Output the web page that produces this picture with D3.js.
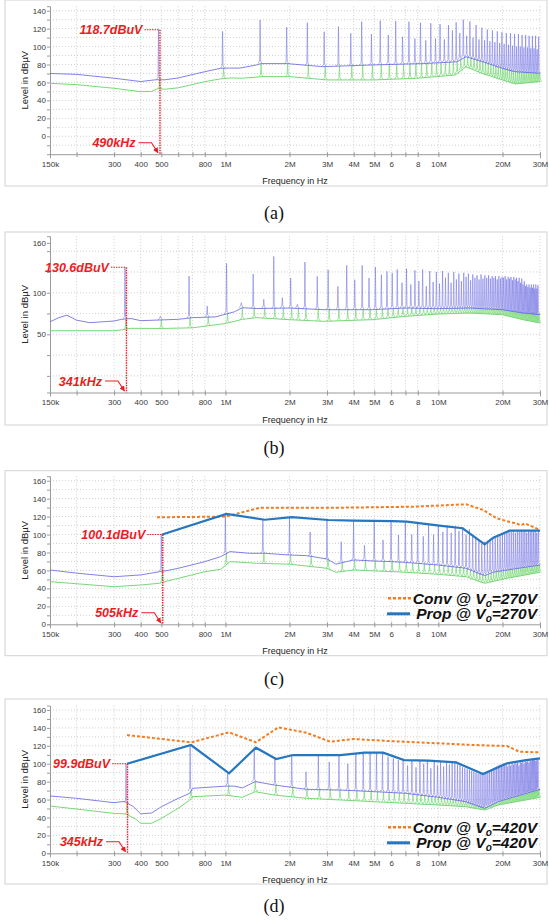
<!DOCTYPE html>
<html>
<head>
<meta charset="utf-8">
<script src="https://cdn.jsdelivr.net/npm/d3@7"></script>
<style>
  body { margin: 0; background: #fff; }
  svg text { font-family: "Liberation Sans", Arial, sans-serif; }
</style>
</head>
<body>
<svg id="chart" width="549" height="924"></svg>
<script>
// ---- shared axis data ----
var freqTicks = [150e3, 200e3, 300e3, 400e3, 500e3, 600e3, 700e3, 800e3, 1e6, 2e6, 3e6, 4e6, 5e6, 6e6, 7e6, 8e6, 10e6, 20e6, 30e6];
var freqLabels = ["150k", "", "300", "400", "500", "", "", "800", "1M", "2M", "3M", "4M", "5M", "6", "", "8", "10M", "20M", "30M"];
var captions = ["(a)", "(b)", "(c)", "(d)"];

// level ticks (labelled) and grid levels per panel
var levelLabelsA = [0, 20, 40, 60, 80, 100, 120, 140];
var levelGridA = [-10, 0, 10, 20, 30, 40, 50, 60, 70, 80, 90, 100, 110, 120, 130, 140];
var levelLabelsB = [50, 100, 160];
var levelGridB = [0, 25, 50, 75, 100, 125, 150];
var levelLabelsCD = [0, 20, 40, 60, 80, 100, 120, 140, 160];
var levelGridCD = [10, 20, 30, 40, 50, 60, 70, 80, 90, 100, 110, 120, 130, 140, 150, 160];

// ---- panel (a) ----
var fundA = 490e3;
var markA = { level: 118.7, peakText: "118.7dBuV", freqText: "490kHz" };
var blueFloorA = [[150e3, 70], [200e3, 69], [300e3, 64.7], [400e3, 61], [470e3, 63], [520e3, 63], [600e3, 65], [800e3, 72], [950e3, 75.8], [1.05e6, 76], [1.17e6, 76], [1.4e6, 79.5], [1.47e6, 81], [1.95e6, 81], [2.86e6, 77.6], [4.9e6, 79.5], [8.5e6, 81], [12.2e6, 83], [13.5e6, 88.7], [16.2e6, 83], [20e6, 75.8], [22.8e6, 72], [30e6, 70.2]];
var greenFloorA = [[150e3, 59], [200e3, 57.5], [300e3, 53.5], [400e3, 49.7], [450e3, 50], [480e3, 53], [520e3, 52.4], [600e3, 54], [800e3, 60.9], [950e3, 64], [1.05e6, 65], [1.2e6, 64.7], [1.5e6, 66.5], [2e6, 66.5], [3e6, 62.8], [5e6, 62.8], [8e6, 64.7], [12e6, 68.3], [13.5e6, 77.6], [16e6, 70.2], [20e6, 62.8], [23e6, 58.3], [30e6, 61]];
var harmonicsA = [118.7, 117, 129.7, 121.5, 126.7, 116.6, 122.2, 114.8, 127.8, 114,
  128.9, 112.9, 128.5, 111, 127.8, 109, 126.7, 107, 126, 109,
  125, 108, 124, 118, 127, 115, 130, 112, 128, 110,
  124, 108, 121, 107, 119, 106, 118, 105, 117, 104,
  116, 103, 115, 102, 115, 101, 114, 100, 114, 100,
  113, 99, 113, 99, 112, 98, 112, 98, 112, 97, 111];
var bumpsA = [];

// ---- panel (b) ----
var fundB = 341e3;
var markB = { level: 130.6, peakText: "130.6dBuV", freqText: "341kHz" };
var blueFloorB = [[150e3, 65], [165e3, 70], [180e3, 73], [200e3, 67], [230e3, 64], [300e3, 66], [325e3, 68], [360e3, 69], [400e3, 66.4], [600e3, 68], [700e3, 70], [900e3, 71], [1.1e6, 77], [1.2e6, 82], [1.4e6, 81], [2e6, 81.6], [2.9e6, 79.6], [4.9e6, 79.6], [7e6, 81.6], [10e6, 80.8], [14e6, 81.6], [20e6, 79.6], [25e6, 75.6], [30e6, 73.6]];
var greenFloorB = [[150e3, 54.3], [300e3, 54.3], [330e3, 55.5], [360e3, 57.2], [500e3, 57], [700e3, 57.8], [1e6, 63], [1.2e6, 68], [1.4e6, 70], [2e6, 67.6], [2.9e6, 65.6], [4.9e6, 67.6], [7e6, 71.6], [10e6, 74.4], [14e6, 75.6], [20e6, 73.6], [25e6, 67.6], [30e6, 63.6]];
var harmonicsB = [130.6, 120, 135.3, 122.5, 143.7, 117.7, 136.9, 119.7, 127.6, 107.7,
  132.9, 115.6, 132.9, 117.7, 130.9, 121.7, 125.7, 123.7, 128, 112,
  129, 110, 127, 114, 128, 108, 126, 113, 125, 111,
  126, 118, 124, 112, 125, 116, 123, 114, 124, 119,
  123, 115, 122, 118, 121, 116, 122, 117, 121, 118,
  121, 117, 120, 118, 120, 116, 120, 117, 119, 118,
  120, 116, 119, 117, 119, 115, 119, 116, 118, 114,
  118, 112, 117, 110, 114, 108, 110, 107, 110, 106,
  110, 106, 110, 105, 110, 105, 109];
var bumpsB = [[500e3, 72], [830e3, 84], [1.2e6, 88], [1.53e6, 92], [1.87e6, 94], [2.2e6, 86]];

// ---- panel (c) ----
var fundC = 505e3;
var markC = { level: 100.1, peakText: "100.1dBuV", freqText: "505kHz" };
var blueFloorC = [[150e3, 60.5], [200e3, 57], [300e3, 53], [400e3, 55], [490e3, 58.6], [520e3, 59.4], [600e3, 62.4], [800e3, 69.8], [950e3, 75.4], [1.05e6, 81], [1.3e6, 79.1], [1.53e6, 79.1], [2e6, 77.2], [2.4e6, 76.5], [3e6, 72.8], [3.3e6, 67], [4e6, 71.7], [4.9e6, 70.6], [6e6, 69.8], [7e6, 69], [10e6, 66], [13.5e6, 62.4], [16.5e6, 54.2], [18e6, 57.9], [21e6, 60.5], [30e6, 66]];
var greenFloorC = [[150e3, 47.5], [300e3, 41.9], [400e3, 43.8], [490e3, 45.7], [520e3, 47.5], [800e3, 58.6], [950e3, 61.3], [1.05e6, 69.8], [1.4e6, 68], [2e6, 67], [3e6, 62.4], [3.3e6, 58], [4e6, 60.5], [7e6, 58], [10e6, 55.7], [13.5e6, 53], [16.5e6, 45.7], [21e6, 51.3], [30e6, 58]];
var harmonicsC = [100.1, 122.5, 116.5, 119, 103, 116, 92, 115.4, 88, 115.4,
  94, 114.4, 99.5, 114, 100, 113, 98, 112, 100, 110.5,
  103, 110, 102, 109, 104, 108, 100, 106, 98, 96,
  94, 90, 92, 93, 95, 96, 97, 98, 99, 101,
  102, 103, 104, 103, 104, 102, 104, 103, 104, 103,
  104, 102, 104, 103, 104, 103, 104, 102, 104];
var bumpsC = [];
var propC = [[505e3, 100.1], [1.01e6, 122.9], [1.53e6, 116.5], [2.05e6, 119.3], [3.04e6, 116.2], [4.0e6, 115.4], [6.1e6, 115], [7.1e6, 114.4], [10.1e6, 109.9], [13e6, 107], [16.5e6, 89.1], [18.1e6, 96.5], [21.6e6, 104.3], [30e6, 104.3]];
var convC = [[477e3, 119.2], [1.0e6, 120], [1.46e6, 129.9], [3.45e6, 129.9], [7.5e6, 131], [13.5e6, 133.7], [16.2e6, 127.4], [18.8e6, 118.1], [22e6, 113.6], [24.5e6, 110.6], [25.5e6, 112.5], [30e6, 105]];
var voltC = "270V";

// ---- panel (d) ----
var fundD = 345e3;
var markD = { level: 99.9, peakText: "99.9dBuV", freqText: "345kHz" };
var blueFloorD = [[150e3, 64], [200e3, 61.4], [300e3, 56.5], [335e3, 58], [370e3, 52], [400e3, 44], [450e3, 45], [500e3, 52], [600e3, 61.4], [680e3, 67], [700e3, 72.5], [1e6, 75], [1.1e6, 75], [1.2e6, 73], [1.38e6, 80], [1.7e6, 76.2], [2.4e6, 71.4], [3.5e6, 70.6], [5e6, 68.8], [7e6, 67], [10e6, 62.5], [13.5e6, 57.6], [16.5e6, 50.2], [19e6, 57.6], [30e6, 71.4]];
var greenFloorD = [[150e3, 52.8], [300e3, 44.6], [340e3, 44], [380e3, 38], [400e3, 33.5], [450e3, 33.5], [500e3, 39], [600e3, 50.2], [680e3, 59.5], [700e3, 63.2], [1e6, 65], [1.2e6, 62.5], [1.38e6, 68.8], [1.7e6, 65], [2.4e6, 61.4], [3.5e6, 59.5], [5e6, 57.6], [7e6, 55.8], [10e6, 53.9], [13.5e6, 52], [16.5e6, 48.3], [19e6, 53.9], [30e6, 62.5]];
var harmonicsD = [99.9, 120.5, 89, 118, 105, 110, 91, 110, 102, 110,
  100, 111, 112, 112, 112, 112, 108, 106, 104, 104,
  98, 104, 96, 103, 100, 103, 95, 103, 98, 102,
  97, 102, 99, 101, 101, 99, 98, 96, 95, 94,
  93, 92, 91, 90, 89, 89, 88, 90, 91, 92,
  93, 94, 95, 96, 97, 98, 99, 99, 100, 100,
  100, 97, 101, 98, 102, 99, 102, 100, 103, 98,
  103, 101, 104, 100, 104, 102, 105, 101, 105, 103,
  105, 104, 106, 103, 106, 105];
var bumpsD = [];
var propD = [[345e3, 99.9], [689e3, 120.9], [1.04e6, 89.3], [1.39e6, 117.9], [1.73e6, 105.2], [2.08e6, 109.7], [3.46e6, 109.7], [4.5e6, 112.3], [5.5e6, 112.3], [6.9e6, 104.1], [9.0e6, 103.4], [12.1e6, 101.5], [16.2e6, 88.5], [21e6, 100.4], [25.8e6, 104.1], [30e6, 106]];
var convD = [[345e3, 132], [690e3, 123.9], [1.04e6, 135], [1.39e6, 123.9], [1.77e6, 140.6], [2.4e6, 134.6], [3.1e6, 124.6], [4.0e6, 127.6], [5.9e6, 125.3], [10e6, 122.8], [14.5e6, 120.9], [21e6, 119.8], [24e6, 113.4], [30e6, 112.7]];
var voltD = "420V";

// colours
var blueTrace = "#6b6be2", greenTrace = "#78d878", red = "#ec1c24",
  propColor = "#2677c0", convColor = "#f47b20";

var svg = d3.select("#chart");
var x = d3.scaleLog().domain([150e3, 30e6]).range([50, 540]);

var panels = [
  { frame: [5, 0, 542, 186], dom: [-20, 145], rng: [154.2, 6.2], labels: levelLabelsA, grid: levelGridA, cap: 213,
    fund: fundA, mark: markA, blue: blueFloorA, green: greenFloorA, harm: harmonicsA, bumps: bumpsA },
  { frame: [5, 232, 542, 193], dom: [-20, 168], rng: [392.5, 236.2], labels: levelLabelsB, grid: levelGridB, cap: 448,
    fund: fundB, mark: markB, blue: blueFloorB, green: greenFloorB, harm: harmonicsB, bumps: bumpsB },
  { frame: [5, 470.7, 542, 185], dom: [0, 165], rng: [624.3, 476.2], labels: levelLabelsCD, grid: levelGridCD, cap: 679,
    fund: fundC, mark: markC, blue: blueFloorC, green: greenFloorC, harm: harmonicsC, bumps: bumpsC,
    prop: propC, conv: convC, volt: voltC },
  { frame: [5, 699, 542, 185], dom: [0, 165], rng: [853.3, 705.5], labels: levelLabelsCD, grid: levelGridCD, cap: 906,
    fund: fundD, mark: markD, blue: blueFloorD, green: greenFloorD, harm: harmonicsD, bumps: bumpsD,
    prop: propD, conv: convD, volt: voltD }
];

svg.append("defs").append("marker")
  .attr("id", "arrow")
  .attr("viewBox", "0 0 10 10")
  .attr("refX", 9).attr("refY", 5)
  .attr("markerWidth", 5).attr("markerHeight", 5)
  .attr("orient", "auto")
  .append("path")
  .attr("d", "M0,0L10,5L0,10z")
  .attr("fill", red);

panels.forEach(function (p, i) { drawPanel(p, i); });

function floorScale(floor) {
  return d3.scaleLog()
    .domain(floor.map(function (d) { return d[0]; }))
    .range(floor.map(function (d) { return d[1]; }))
    .clamp(true);
}

// one narrow spike with a small skirt, from the floor up to the level
function spikePath(xs, yb, yp) {
  var sk = Math.min(2.5, Math.max(0, yb - yp));
  return "M" + (xs - 2) + "," + yb + "L" + (xs - 0.5) + "," + (yb - sk) +
    "L" + xs + "," + yp + "L" + (xs + 0.5) + "," + (yb - sk) + "L" + (xs + 2) + "," + yb;
}

function drawPanel(p, idx) {
  var y = d3.scaleLinear().domain(p.dom).range(p.rng);
  var bottom = p.rng[0], top = p.rng[1];
  var g = svg.append("g");

  // frame
  g.append("rect")
    .attr("x", p.frame[0]).attr("y", p.frame[1])
    .attr("width", p.frame[2]).attr("height", p.frame[3])
    .attr("fill", "none").attr("stroke", "#d2d2d2").attr("stroke-width", 1);

  // grid
  g.append("g").selectAll("line.h").data(p.grid).enter().append("line")
    .attr("x1", 50).attr("x2", 540)
    .attr("y1", function (d) { return y(d); }).attr("y2", function (d) { return y(d); })
    .attr("stroke", "#c4c4c4").attr("stroke-width", 0.8).attr("stroke-dasharray", "1,2");
  g.append("g").selectAll("line.v").data(freqTicks.slice(1)).enter().append("line")
    .attr("x1", function (d) { return x(d); }).attr("x2", function (d) { return x(d); })
    .attr("y1", top).attr("y2", bottom)
    .attr("stroke", "#c4c4c4").attr("stroke-width", 0.8).attr("stroke-dasharray", "1,2");

  // axes
  var ya = g.append("g").attr("transform", "translate(50,0)")
    .call(d3.axisLeft(y).tickValues(p.grid.concat(p.labels).filter(function (v, k, a) { return a.indexOf(v) === k; }))
      .tickSize(3).tickPadding(1)
      .tickFormat(function (d) { return p.labels.indexOf(d) >= 0 ? d : ""; }));
  ya.select(".domain").attr("stroke", "#9a9a9a");
  ya.selectAll(".tick line").attr("stroke", "#9a9a9a");
  ya.selectAll("text").attr("fill", "#3a3a3a").style("font-size", "8px");

  var xa = g.append("g").attr("transform", "translate(0," + bottom + ")")
    .call(d3.axisBottom(x).tickValues(freqTicks).tickSize(4).tickPadding(3)
      .tickFormat(function (d, k) { return freqLabels[k]; }));
  xa.select(".domain").attr("stroke", "#9a9a9a");
  xa.selectAll(".tick line").attr("stroke", "#9a9a9a").attr("y1", -2).attr("y2", 3);
  xa.selectAll("text").attr("fill", "#3a3a3a").style("font-size", "8px");

  // axis titles
  g.append("text")
    .attr("transform", "translate(24," + ((top + bottom) / 2) + ") rotate(-90)")
    .attr("text-anchor", "middle").attr("dominant-baseline", "central")
    .style("font-size", "9.5px").attr("fill", "#222")
    .text("Level in dBµV");
  g.append("text")
    .attr("x", 295).attr("y", bottom + 30)
    .attr("text-anchor", "middle")
    .style("font-size", "9px").attr("fill", "#222")
    .text("Frequency in Hz");

  // traces
  var blueAt = floorScale(p.blue), greenAt = floorScale(p.green);
  var line = d3.line().x(function (d) { return x(d[0]); }).y(function (d) { return y(d[1]); });
  var harm = p.harm.map(function (v, k) { return [p.fund * (k + 1), v]; })
    .filter(function (d) { return d[0] <= 30e6; });
  var spikes = harm.concat(p.bumps);

  var tg = g.append("g");
  tg.append("path").datum(p.green).attr("d", line)
    .attr("fill", "none").attr("stroke", greenTrace).attr("stroke-width", 1);
  tg.selectAll("path.gs").data(spikes).enter().append("path")
    .attr("d", function (d) { return spikePath(x(d[0]), y(greenAt(d[0])), y(Math.min(d[1], blueAt(d[0])))); })
    .attr("fill", "none").attr("stroke", greenTrace).attr("stroke-width", 0.8).attr("opacity", 0.9);
  tg.append("path").datum(p.blue).attr("d", line)
    .attr("fill", "none").attr("stroke", blueTrace).attr("stroke-width", 1).attr("opacity", 0.85);
  tg.selectAll("path.bs").data(spikes).enter().append("path")
    .attr("d", function (d) { return spikePath(x(d[0]) - 1, y(blueAt(d[0])), y(d[1])); })
    .attr("fill", "none").attr("stroke", blueTrace).attr("stroke-width", 0.8).attr("opacity", 0.65);

  // limit lines
  if (p.conv) {
    g.append("path").datum(p.conv).attr("d", line)
      .attr("fill", "none").attr("stroke", convColor).attr("stroke-width", 2)
      .attr("stroke-dasharray", "3,2");
    g.append("path").datum(p.prop).attr("d", line)
      .attr("fill", "none").attr("stroke", propColor).attr("stroke-width", 2.2);

    var lg = g.append("g");
    var rows = [{ name: "Conv", color: convColor, dash: "3,2", y: bottom - 26, x0: 388 },
      { name: "Prop", color: propColor, dash: null, y: bottom - 10.5, x0: 387 }];
    rows.forEach(function (r) {
      lg.append("line").attr("x1", r.x0).attr("x2", r.x0 + 23).attr("y1", r.y).attr("y2", r.y)
        .attr("stroke", r.color).attr("stroke-width", r.dash ? 2.4 : 3)
        .attr("stroke-dasharray", r.dash);
      var t = lg.append("text").attr("x", 537).attr("y", r.y + 5.5)
        .attr("text-anchor", "end")
        .style("font-size", "15.5px").style("font-weight", "bold").style("font-style", "italic")
        .attr("fill", "#111");
      t.append("tspan").text(r.name + " @ V");
      t.append("tspan").attr("dy", 3).style("font-size", "10px").text("o");
      t.append("tspan").attr("dy", -3).text("=" + p.volt);
    });
  }

  // marker annotation
  var xs = x(p.fund), yp = y(p.mark.level);
  var ag = g.append("g");
  ag.append("line").attr("x1", xs - 15).attr("x2", xs).attr("y1", yp).attr("y2", yp)
    .attr("stroke", red).attr("stroke-width", 1.1).attr("stroke-dasharray", "1.5,1");
  ag.append("line").attr("x1", xs + 0.5).attr("x2", xs + 0.5).attr("y1", yp).attr("y2", bottom)
    .attr("stroke", red).attr("stroke-width", 1.4).attr("stroke-dasharray", "1.5,1");
  ag.append("text").attr("x", xs - 17).attr("y", yp + 4.5)
    .attr("text-anchor", "end")
    .style("font-size", "12.5px").style("font-weight", "bold").style("font-style", "italic")
    .attr("fill", red).text(p.mark.peakText);
  var fy = bottom - 11.5;
  ag.append("text").attr("x", xs - 24).attr("y", fy + 4.5)
    .attr("text-anchor", "end")
    .style("font-size", "12.5px").style("font-weight", "bold").style("font-style", "italic")
    .attr("fill", red).text(p.mark.freqText);
  ag.append("path")
    .attr("d", "M" + (xs - 21) + "," + fy + "L" + (xs - 8) + "," + fy + "L" + (xs - 1.5) + "," + (bottom - 1.5))
    .attr("fill", "none").attr("stroke", red).attr("stroke-width", 1.1)
    .attr("marker-end", "url(#arrow)");

  // caption
  svg.append("text").attr("x", 274).attr("y", p.cap + 6)
    .attr("text-anchor", "middle")
    .style("font-family", "'Liberation Serif', 'Times New Roman', serif")
    .style("font-size", "18px").attr("fill", "#111")
    .text(captions[idx]);
}
</script>
</body>
</html>
